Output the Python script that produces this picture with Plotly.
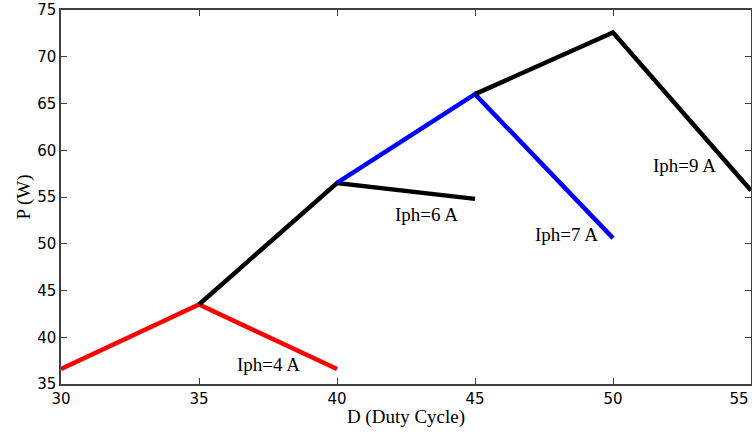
import plotly.graph_objects as go

d4 = [30, 35, 40]
p4 = [36.6, 43.5, 36.6]
d6 = [35, 40, 45]
p6 = [43.5, 56.5, 54.8]
d7 = [40, 45, 50]
p7 = [56.5, 66.0, 50.6]
d9 = [45, 50, 55]
p9 = [66.0, 72.6, 55.7]

x_ticks = [30, 35, 40, 45, 50, 55]
x_ticktext = ["30", "35", "40", "45", "50", "55&nbsp;&nbsp;&nbsp;&nbsp;&nbsp;"]
y_ticks = [35, 40, 45, 50, 55, 60, 65, 70, 75]

labels = ["Iph=4 A", "Iph=6 A", "Iph=7 A", "Iph=9 A"]
label_x = [37.5, 43.25, 48.3, 52.6]
label_y = [37.1, 53.1, 51.0, 58.4]

fig = go.Figure()
for d, p, c in [(d4, p4, "#ff0000"), (d6, p6, "#000000"), (d7, p7, "#0000ff"), (d9, p9, "#000000")]:
    fig.add_trace(go.Scatter(x=d, y=p, mode="lines", line=dict(color=c, width=4.5), showlegend=False))

for t, x, y in zip(labels, label_x, label_y):
    fig.add_annotation(x=x, y=y, text=t, showarrow=False,
                       font=dict(family="Liberation Serif", size=19, color="#000000"))

axis_common = dict(showgrid=False, zeroline=False, showline=True, linecolor="#404040", linewidth=1.5,
                   mirror="ticks", ticks="inside", ticklen=6, tickcolor="#404040", automargin=False,
                   ticklabeloverflow="allow",
                   tickfont=dict(family="DejaVu Sans", size=15, color="#000000"))

fig.update_xaxes(range=[30, 55], tickvals=x_ticks, ticktext=x_ticktext,
                 title=dict(text="D (Duty Cycle)", font=dict(family="Liberation Serif", size=19, color="#000000"), standoff=3),
                 **axis_common)
fig.update_yaxes(range=[35, 75], tickvals=y_ticks,
                 title=dict(text="P (W)", font=dict(family="Liberation Serif", size=19, color="#000000"), standoff=2),
                 **axis_common)

fig.update_layout(width=752, height=434, margin=dict(l=61, r=1, t=10, b=50),
                  plot_bgcolor="white", paper_bgcolor="white")

fig.write_html("out.html", config={"displayModeBar": False},
               post_script="document.body.style.margin='0';document.body.style.overflow='hidden';")
